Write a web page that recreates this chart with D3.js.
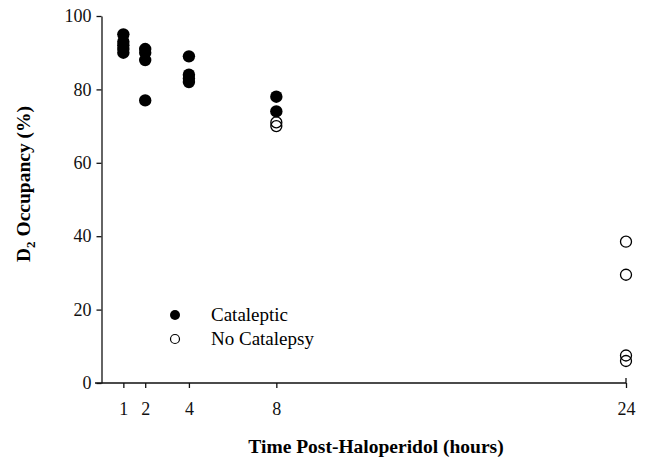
<!DOCTYPE html>
<html>
<head>
    <title>D2 Occupancy</title>
    <script src="https://d3js.org/d3.v7.min.js"></script>
</head>
<body style="margin:0">
    <script>
    "use strict";
    // data
    var cataleptic_hours = [1, 1, 1, 1, 1, 2, 2, 2, 2, 4, 4, 4, 4, 8, 8];
    var cataleptic_occupancy = [95, 93, 92, 91, 90, 91, 90, 88, 77, 89, 84, 83, 82, 78, 74];
    var no_catalepsy_hours = [8, 8, 24, 24, 24, 24];
    var no_catalepsy_occupancy = [71, 70, 38.5, 29.5, 7.5, 6];
    var x_ticks = [1, 2, 4, 8, 24];
    var y_ticks = [0, 20, 40, 60, 80, 100];

    var svg_width = 648;
    var svg_height = 461;
    var font = "Liberation Serif";

    var x_scale = d3.scaleLinear().domain([0, 24]).range([101.5, 626]);
    var y_scale = d3.scaleLinear().domain([0, 100]).range([383, 16]);

    var chart_svg = d3.select("body")
        .append("svg")
        .attr("width", svg_width)
        .attr("height", svg_height)
        .attr("font-family", font);

    // y axis
    var y_axis = d3.axisLeft(y_scale)
        .tickValues(y_ticks)
        .tickSize(5)
        .tickPadding(5)
        .tickSizeOuter(0);
    var y_g = chart_svg.append("g")
        .attr("transform", "translate(" + x_scale(0) + ",0)")
        .call(y_axis);

    // x axis, starts a little left of the y axis
    var x_axis = d3.axisBottom(x_scale)
        .tickValues(x_ticks)
        .tickSize(5)
        .tickPadding(14)
        .tickSizeOuter(0);
    var x_g = chart_svg.append("g")
        .attr("transform", "translate(0," + y_scale(0) + ")")
        .call(x_axis);
    x_g.select(".domain").attr("d", "M95,0H" + x_scale(24) + "V-5");

    [y_g, x_g].forEach(function(g)
    {
        g.attr("font-family", font).attr("font-size", 18);
        g.selectAll("text")
            .attr("font-family", font)
            .attr("fill", "#111");
        g.selectAll("line, .domain")
            .attr("stroke", "#111")
            .attr("stroke-width", 1.3);
    });

    // points
    var radius = 6.2;
    chart_svg.append("g")
        .selectAll("circle")
        .data(cataleptic_hours)
        .enter()
        .append("circle")
        .attr("cx", function(d) { return x_scale(d); })
        .attr("cy", function(d, i) { return y_scale(cataleptic_occupancy[i]); })
        .attr("r", radius)
        .attr("fill", "#000");

    chart_svg.append("g")
        .selectAll("circle")
        .data(no_catalepsy_hours)
        .enter()
        .append("circle")
        .attr("cx", function(d) { return x_scale(d); })
        .attr("cy", function(d, i) { return y_scale(no_catalepsy_occupancy[i]); })
        .attr("r", radius - 0.7)
        .attr("fill", "none")
        .attr("stroke", "#000")
        .attr("stroke-width", 1.3);

    // legend
    var legend = chart_svg.append("g");
    legend.append("circle")
        .attr("cx", 175).attr("cy", 315).attr("r", 5)
        .attr("fill", "#000");
    legend.append("circle")
        .attr("cx", 175).attr("cy", 339).attr("r", 4.5)
        .attr("fill", "none").attr("stroke", "#000").attr("stroke-width", 1.2);
    legend.append("text")
        .attr("x", 211).attr("y", 321)
        .attr("font-family", font)
        .attr("font-size", 19)
        .text("Cataleptic");
    legend.append("text")
        .attr("x", 211).attr("y", 345)
        .attr("font-family", font)
        .attr("font-size", 19)
        .text("No Catalepsy");

    // axis titles
    chart_svg.append("text")
        .attr("x", 376)
        .attr("y", 453)
        .attr("text-anchor", "middle")
        .attr("font-family", font)
        .attr("font-size", 19.5)
        .attr("font-weight", "bold")
        .text("Time Post-Haloperidol (hours)");

    var y_title = chart_svg.append("text")
        .attr("transform", "translate(30,184) rotate(-90)")
        .attr("text-anchor", "middle")
        .attr("font-family", font)
        .attr("font-size", 19.5)
        .attr("font-weight", "bold");
    y_title.append("tspan").text("D");
    y_title.append("tspan").attr("dy", 5).attr("font-size", 13).text("2");
    y_title.append("tspan").attr("dy", -5).text(" Occupancy (%)");
    </script>
</body>
</html>
